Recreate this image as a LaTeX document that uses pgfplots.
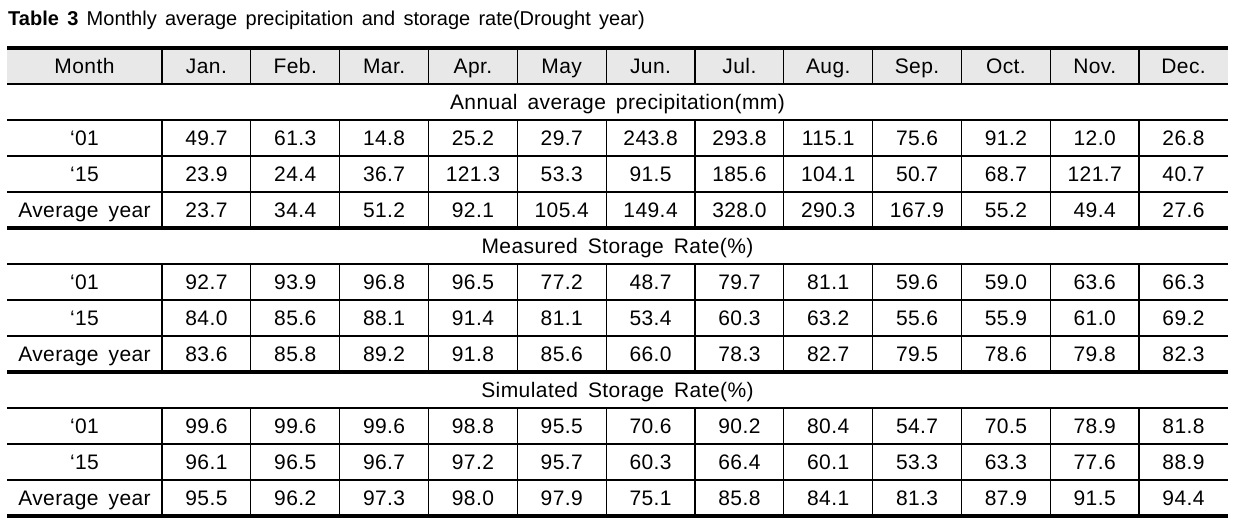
\documentclass[border=0pt]{standalone}
\usepackage{pgfplots}
\pgfplotsset{compat=1.18}
\usepackage{pgfplotstable}
\usepackage{fontspec}
\setmainfont{Liberation Sans}
\newfontfamily\spacedfont[LetterSpace=2,WordSpace=1.6]{Liberation Sans}
\newfontfamily\titlefont[WordSpace=1.5]{Liberation Sans}

\pgfplotstableread[col sep=comma]{
y,label,v1,v2,v3,v4,v5,v6,v7,v8,v9,v10,v11,v12
66,Month,Jan.,Feb.,Mar.,Apr.,May,Jun.,Jul.,Aug.,Sep.,Oct.,Nov.,Dec.
}\hdr

\pgfplotstableread[col sep=comma]{
y,label,v1,v2,v3,v4,v5,v6,v7,v8,v9,v10,v11,v12
138,‘01,49.7,61.3,14.8,25.2,29.7,243.8,293.8,115.1,75.6,91.2,12.0,26.8
174,‘15,23.9,24.4,36.7,121.3,53.3,91.5,185.6,104.1,50.7,68.7,121.7,40.7
210,Average year,23.7,34.4,51.2,92.1,105.4,149.4,328.0,290.3,167.9,55.2,49.4,27.6
}\precip

\pgfplotstableread[col sep=comma]{
y,label,v1,v2,v3,v4,v5,v6,v7,v8,v9,v10,v11,v12
282,‘01,92.7,93.9,96.8,96.5,77.2,48.7,79.7,81.1,59.6,59.0,63.6,66.3
318,‘15,84.0,85.6,88.1,91.4,81.1,53.4,60.3,63.2,55.6,55.9,61.0,69.2
354,Average year,83.6,85.8,89.2,91.8,85.6,66.0,78.3,82.7,79.5,78.6,79.8,82.3
}\measured

\pgfplotstableread[col sep=comma]{
y,label,v1,v2,v3,v4,v5,v6,v7,v8,v9,v10,v11,v12
426,‘01,99.6,99.6,99.6,98.8,95.5,70.6,90.2,80.4,54.7,70.5,78.9,81.8
462,‘15,96.1,96.5,96.7,97.2,95.7,60.3,66.4,60.1,53.3,63.3,77.6,88.9
498,Average year,95.5,96.2,97.3,98.0,97.9,75.1,85.8,84.1,81.3,87.9,91.5,94.4
}\simulated

\newcommand\tablerows[1]{%
  \addplot[draw=none, mark=none] table[x expr=84.5, y=y, meta=label] {#1};
  \pgfplotsinvokeforeach{1,...,12}{%
    \addplot[draw=none, mark=none] table[x expr={162+88.83*(##1-0.5)}, y=y, meta=v##1] {#1};
  }%
}
\newcommand\bodyfont{\spacedfont\fontsize{21}{24}\selectfont}

\begin{document}
\begin{tikzpicture}
\begin{axis}[
  scale only axis, width=1236pt, height=525pt,
  xmin=0, xmax=1236, ymin=0, ymax=525, y dir=reverse,
  axis lines=none, clip=false,
  point meta=explicit symbolic, nodes near coords,
  every node near coord/.style={anchor=center, inner sep=0pt, text height=15pt, text depth=0pt,
    font=\bodyfont, text=black},
]
\path (axis cs:0,0) rectangle (axis cs:1236,525);
\fill[black!9] (axis cs:7,48) rectangle (axis cs:1228,84);
% thin horizontal lines
\foreach \yy in {84,120,156,192,264,300,336,408,444,480}{
  \edef\tmp{\noexpand\draw[line width=1.3pt] (axis cs:7,\yy) -- (axis cs:1228,\yy);}\tmp
}
% thick rules
\foreach \yy in {48,228,372,516}{
  \edef\tmp{\noexpand\draw[line width=3.2pt] (axis cs:7,\yy) -- (axis cs:1228,\yy);}\tmp
}
% vertical lines
\foreach \i in {0,...,11}{
  \pgfmathsetmacro\xx{162+88.83*\i}
  \edef\tmp{\noexpand\draw[line width=1.3pt] (axis cs:\xx,48) -- (axis cs:\xx,84);
    \noexpand\draw[line width=1.3pt] (axis cs:\xx,120) -- (axis cs:\xx,228);
    \noexpand\draw[line width=1.3pt] (axis cs:\xx,264) -- (axis cs:\xx,372);
    \noexpand\draw[line width=1.3pt] (axis cs:\xx,408) -- (axis cs:\xx,516);}\tmp
}
\tablerows{\hdr}
\tablerows{\precip}
\tablerows{\measured}
\tablerows{\simulated}
\node[font=\bodyfont, inner sep=0pt, text height=15pt, text depth=0pt] at (axis cs:617.5,102) {Annual average precipitation(mm)};
\node[font=\bodyfont, inner sep=0pt, text height=15pt, text depth=0pt] at (axis cs:617.5,246) {Measured Storage Rate(\%)};
\node[font=\bodyfont, inner sep=0pt, text height=15pt, text depth=0pt] at (axis cs:617.5,390) {Simulated Storage Rate(\%)};
\node[anchor=base west, inner sep=0pt, font=\titlefont\fontsize{20}{22}\selectfont] at (axis cs:8,25) {\textbf{Table 3} Monthly average precipitation and storage rate(Drought year)};
\end{axis}
\end{tikzpicture}
\end{document}
